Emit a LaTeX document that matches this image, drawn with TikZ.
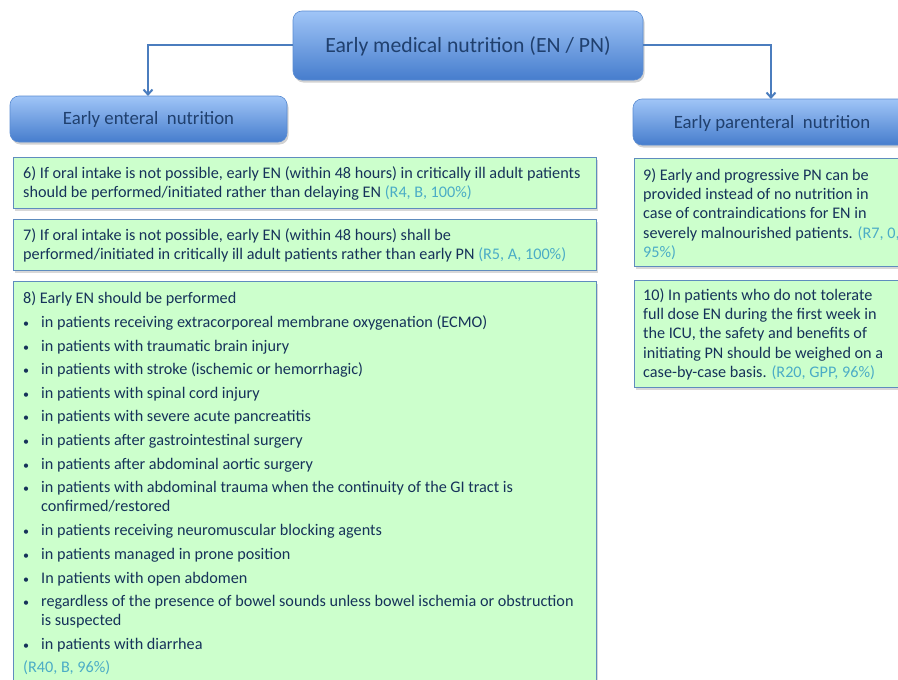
\documentclass[tikz,border=0pt]{standalone}
\usepackage{fontspec}
\setmainfont{Carlito}
\usetikzlibrary{shadows,arrows.meta}
\definecolor{hdtop}{RGB}{160,197,247}
\definecolor{hdbot}{RGB}{70,125,205}
\definecolor{hdline}{RGB}{90,140,210}
\definecolor{hdtext}{RGB}{32,64,110}
\definecolor{conn}{RGB}{75,125,190}
\definecolor{gfill}{RGB}{204,255,204}
\definecolor{gline}{RGB}{95,140,190}
\definecolor{btext}{RGB}{22,50,90}
\definecolor{cite}{RGB}{75,172,198}
\tikzset{
  hdbox/.style={rounded corners=9pt, top color=hdtop, bottom color=hdbot, draw=hdline, line width=0.6pt,
    drop shadow={opacity=0.35, shadow xshift=1.5pt, shadow yshift=-2.5pt}},
  gbox/.style={fill=gfill, draw=gline, line width=0.8pt,
    drop shadow={opacity=0.3, shadow xshift=1.5pt, shadow yshift=-2.5pt}},
  hdtxt/.style={text=hdtext, inner sep=0pt},
  ltxt/.style={text=btext, inner sep=0pt, anchor=north west, yshift=13.72pt, align=left, font=\fontsize{16.2}{19.6}\selectfont},
  rtxt/.style={text=btext, inner sep=0pt, anchor=north west, yshift=13.72pt, align=left, font=\fontsize{16.2}{19.4}\selectfont},
  link/.style={conn, line width=2.6pt, -{Straight Barb[length=5pt,width=9pt,line width=2pt]}}
}
\newcommand{\cit}[1]{\textcolor{cite}{#1}}
\newcommand{\smbul}{{\fontsize{12}{19.6}\selectfont\textbullet}}
\begin{document}
\begin{tikzpicture}[x=1pt,y=-1pt]
\useasboundingbox (0,0) rectangle (898,680);
\clip (0,0) rectangle (898,680);
\fill[white] (0,0) rectangle (898,680);
% header boxes
\path[hdbox] (293,11) rectangle (643,80);
\node[hdtxt, font=\fontsize{21.7}{24}\selectfont] (top) at (468,46) {Early medical nutrition (EN / PN)};
\coordinate (topL) at (293,45);
\coordinate (topR) at (643,45);
\path[hdbox] (10,96) rectangle (287,142);
\node[hdtxt, font=\fontsize{18.8}{22}\selectfont] (en) at (148.5,119.5) {Early enteral\ \ nutrition};
\coordinate (enT) at (148,96);
\path[hdbox] (633,99) rectangle (911,145);
\node[hdtxt, font=\fontsize{18.8}{22}\selectfont] (pn) at (772,123) {Early parenteral\ \ nutrition};
\coordinate (pnT) at (771,99);
% connectors
\draw[link] (topL) -| (enT);
\draw[link] (topR) -| (pnT);
% green boxes left
\path[gbox] (13,157) rectangle (596,208);
\node[ltxt] (r6) at (23,178) {\strut 6) If oral intake is not possible, early EN (within 48 hours) in critically ill adult patients\\should be performed/initiated rather than delaying EN \cit{(R4, B, 100\%)}};
\path[gbox] (13,219) rectangle (596,270);
\node[ltxt] (r7) at (23,240) {\strut 7) If oral intake is not possible, early EN (within 48 hours) shall be\\performed/initiated in critically ill adult patients rather than early PN \cit{(R5, A, 100\%)}};
\path[gbox] (13,281) rectangle (596,700);
\node[ltxt] (r8) at (23,303) {\strut 8) Early EN should be performed};
\foreach \yy/\tt [count=\i] in {
  327/{in patients receiving extracorporeal membrane oxygenation (ECMO)},
  351/{in patients with traumatic brain injury},
  374/{in patients with stroke (ischemic or hemorrhagic)},
  398/{in patients with spinal cord injury},
  421/{in patients with severe acute pancreatitis},
  445/{in patients after gastrointestinal surgery},
  469/{in patients after abdominal aortic surgery},
  492/{in patients with abdominal trauma when the continuity of the GI tract is\\confirmed/restored},
  535/{in patients receiving neuromuscular blocking agents},
  559/{in patients managed in prone position},
  583/{In patients with open abdomen},
  606/{regardless of the presence of bowel sounds unless bowel ischemia or obstruction\\is suspected},
  649/{in patients with diarrhea}} {
  \node[ltxt] (d\i) at (23,\yy) {\strut\smbul};
  \node[ltxt] (b\i) at (41,\yy) {\strut\tt};
}
\node[ltxt] (r8c) at (23,672) {\strut\cit{(R40, B, 96\%)}};
% green boxes right
\path[gbox] (634,158) rectangle (915,266);
\node[rtxt] (r9) at (643,180) {\strut 9) Early and progressive PN can be\\provided instead of no nutrition in\\case of contraindications for EN in\\severely malnourished patients. \cit{(R7, 0,}\\\cit{95\%)}};
\path[gbox] (634,280) rectangle (915,387);
\node[rtxt] (r10) at (643,300) {\strut 10) In patients who do not tolerate\\full dose EN during the first week in\\the ICU, the safety and benefits of\\initiating PN should be weighed on a\\case-by-case basis. \cit{(R20, GPP, 96\%)}};
\end{tikzpicture}
\end{document}
